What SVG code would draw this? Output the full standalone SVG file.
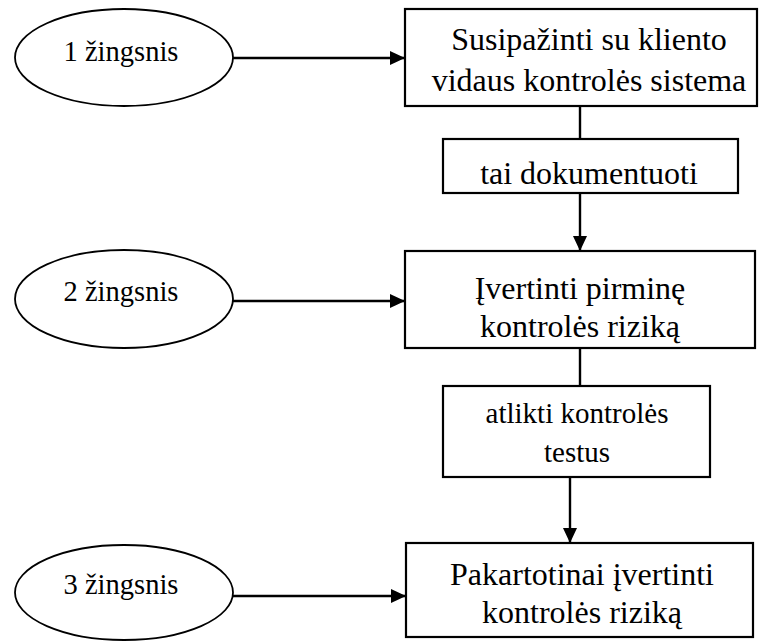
<svg xmlns="http://www.w3.org/2000/svg" width="760" height="641" viewBox="0 0 760 641">
  <style>
    .shape { fill: #fff; stroke: #000; stroke-width: 2.2; }
    .oval { fill: #fff; stroke: #000; stroke-width: 1.8; }
    .link { fill: none; stroke: #000; stroke-width: 2.4; }
    text { fill: #000; text-anchor: middle; }
    .big { font-size: 32px; }
    .mid { font-size: 29px; }
    .step { font-size: 28.5px; }
  </style>
  <defs>
    <marker id="arrow" viewBox="0 0 15 14" refX="15" refY="7" markerWidth="15" markerHeight="14" markerUnits="userSpaceOnUse" orient="auto">
      <path d="M0,0 L15,7 L0,14 Z" fill="#000"/>
    </marker>
  </defs>

  <rect width="760" height="641" fill="#fff"/>

  <!-- connectors -->
  <g id="connectors">
    <line class="link" x1="233" y1="58" x2="405" y2="58" marker-end="url(#arrow)"/>
    <line class="link" x1="233" y1="301" x2="405" y2="301" marker-end="url(#arrow)"/>
    <line class="link" x1="233" y1="596" x2="406" y2="596" marker-end="url(#arrow)"/>
    <line class="link" x1="580" y1="106" x2="580" y2="139"/>
    <line class="link" x1="580" y1="193" x2="580" y2="251" marker-end="url(#arrow)"/>
    <line class="link" x1="580" y1="348" x2="580" y2="386"/>
    <line class="link" x1="570" y1="477" x2="570" y2="543" marker-end="url(#arrow)"/>
  </g>

  <g font-family="'Liberation Serif', Tinos, 'Times New Roman', 'DejaVu Serif', serif">
    <!-- step ovals -->
    <g id="step1">
      <ellipse class="oval" cx="124" cy="57.5" rx="109" ry="48.5"/>
      <text class="step" x="121" y="61">1 žingsnis</text>
    </g>
    <g id="step2">
      <ellipse class="oval" cx="124" cy="299" rx="109" ry="49"/>
      <text class="step" x="121" y="301">2 žingsnis</text>
    </g>
    <g id="step3">
      <ellipse class="oval" cx="124" cy="592.5" rx="109" ry="47.5"/>
      <text class="step" x="121" y="594">3 žingsnis</text>
    </g>

    <!-- process boxes -->
    <g id="box-acquaint">
      <rect class="shape" x="405" y="9" width="352" height="97"/>
      <text class="big" x="589" y="50">Susipažinti su kliento</text>
      <text class="big" x="589" y="91">vidaus kontrolės sistema</text>
    </g>
    <g id="box-document">
      <rect class="shape" x="443" y="139" width="295" height="54"/>
      <text class="big" x="589" y="184">tai dokumentuoti</text>
    </g>
    <g id="box-assess">
      <rect class="shape" x="405" y="251" width="350" height="97"/>
      <text class="big" x="580" y="299">Įvertinti pirminę</text>
      <text class="big" x="580" y="337">kontrolės riziką</text>
    </g>
    <g id="box-tests">
      <rect class="shape" x="443" y="386" width="267" height="91"/>
      <text class="mid" x="577" y="423">atlikti kontrolės</text>
      <text class="mid" x="577" y="462">testus</text>
    </g>
    <g id="box-reassess">
      <rect class="shape" x="406" y="543" width="347" height="94"/>
      <text class="big" x="582" y="585">Pakartotinai įvertinti</text>
      <text class="big" x="582" y="623">kontrolės riziką</text>
    </g>
  </g>
</svg>
